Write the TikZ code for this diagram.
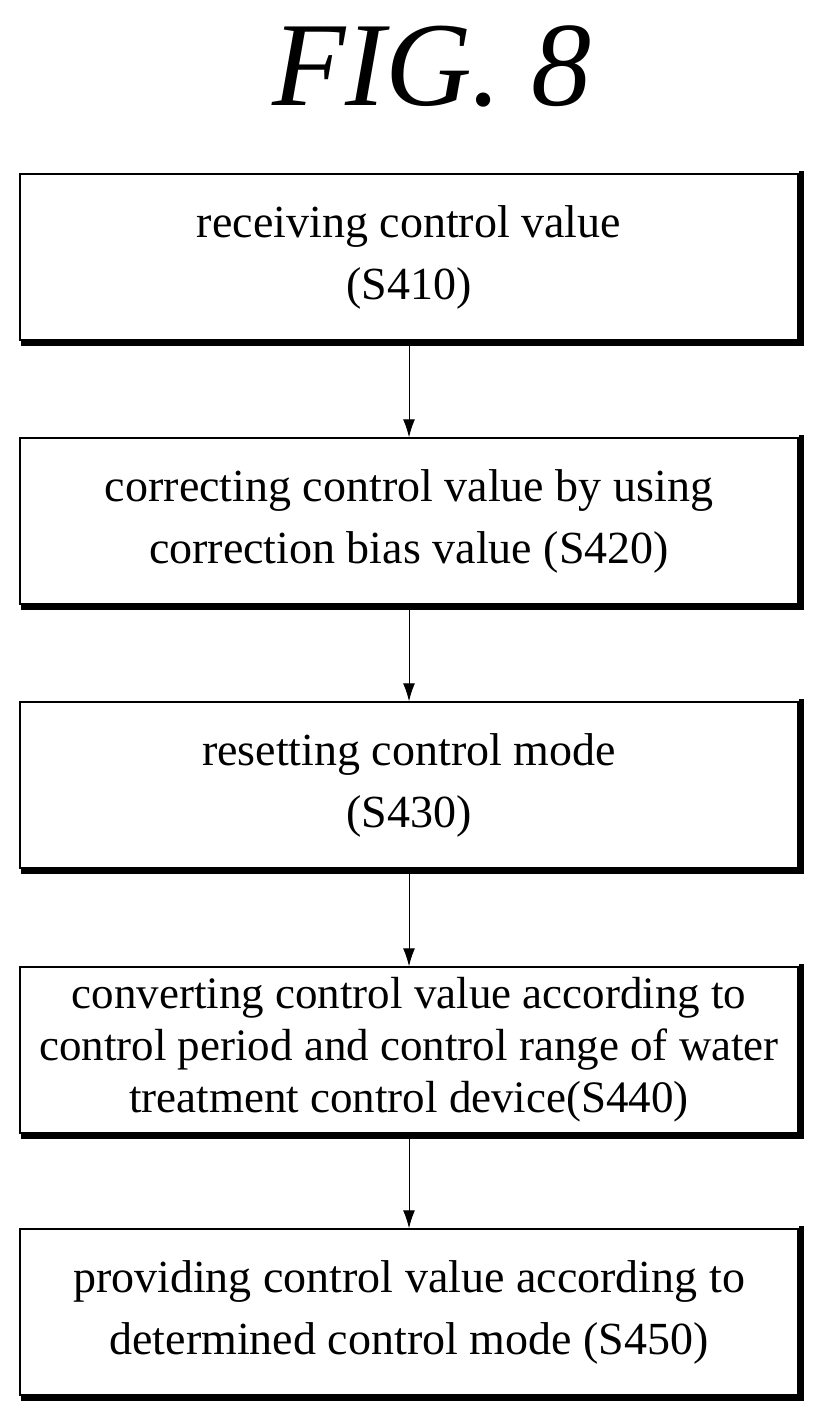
\documentclass[tikz,border=0pt]{standalone}
\usepackage{fontspec}
\setmainfont{Liberation Serif}
\usetikzlibrary{positioning,arrows.meta}
\tikzset{
  stepbox/.style={draw,line width=1.5pt,minimum width=778pt,minimum height=166pt,
    align=center,font=\fontsize{46}{62}\selectfont,inner sep=0pt},
  shadow/.style={line width=5pt},
  flow/.style={-{Latex[length=18pt,width=12pt]},line width=1pt}
}
\begin{document}
\begin{tikzpicture}[x=1pt,y=-1pt]
  \useasboundingbox (0,0) rectangle (822,1423);
  % title
  \node (title) at (432,66) {\fontsize{120}{120}\selectfont\itshape FIG. 8};

  % steps
  \node[stepbox] (s410) at (409,257) {receiving control value\\(S410)};
  \node[stepbox] (s420) at (409,521) {correcting control value by using\\correction bias value (S420)};
  \node[stepbox] (s430) at (409,785) {resetting control mode\\(S430)};
  \node[stepbox,font=\fontsize{45}{52}\selectfont] (s440) at (409,1050) {converting control value according to\\control period and control range of water\\treatment control device(S440)};
  \node[stepbox] (s450) at (409,1312) {providing control value according to\\determined control mode (S450)};

  % shadows
  \foreach \n in {s410,s420,s430,s440,s450}
    \draw[shadow] ([xshift=2.5pt,yshift=2pt]\n.north east) -- ([xshift=2.5pt,yshift=-2.5pt]\n.south east)
      -- ([xshift=2pt,yshift=-2.5pt]\n.south west);

  \draw[flow] (s410) -- (s420);
  \draw[flow] (s420) -- (s430);
  \draw[flow] (s430) -- (s440);
  \draw[flow] (s440) -- (s450);
\end{tikzpicture}
\end{document}
